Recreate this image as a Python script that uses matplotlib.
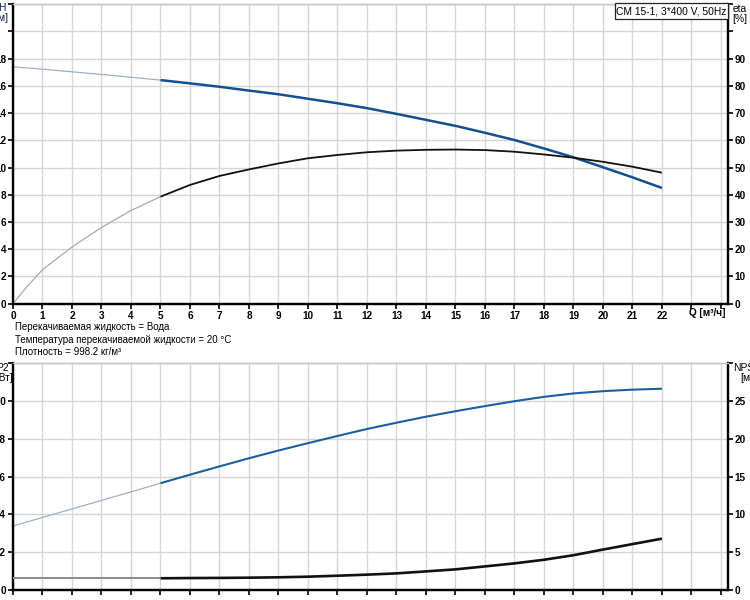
import matplotlib
matplotlib.use("Agg")
import matplotlib.pyplot as plt
from matplotlib.patches import Rectangle

plt.rcParams['font.family'] = ['Liberation Sans', 'DejaVu Sans']

# ---- data ----
Q = [0, 0.5, 1, 2, 3, 4, 5, 6, 7, 8, 9, 10, 11, 12, 13, 14, 15, 16, 17, 18, 19, 20, 21, 22]
H = [17.4, 17.31, 17.22, 17.03, 16.83, 16.63, 16.42, 16.18, 15.93, 15.65, 15.38, 15.05, 14.72,
     14.36, 13.94, 13.5, 13.06, 12.55, 12.02, 11.4, 10.75, 10.02, 9.28, 8.5]
ETA = [0, 6.6, 12.5, 20.8, 28.0, 34.2, 39.3, 43.6, 46.9, 49.3, 51.5, 53.4, 54.6, 55.6, 56.2,
       56.5, 56.6, 56.4, 55.8, 54.8, 53.6, 52.1, 50.3, 48.1]
P2 = [0.339, 0.361, 0.384, 0.429, 0.474, 0.519, 0.565, 0.61, 0.654, 0.697, 0.738, 0.777, 0.815,
      0.852, 0.885, 0.917, 0.946, 0.973, 0.999, 1.022, 1.04, 1.052, 1.06, 1.065]
NPSH = [1.55, 1.55, 1.55, 1.55, 1.55, 1.55, 1.55, 1.58, 1.6, 1.63, 1.68, 1.76, 1.89, 2.03, 2.2,
        2.46, 2.73, 3.12, 3.52, 4.0, 4.6, 5.35, 6.07, 6.79]
SPLIT = 6  # index where the solid (operating) part begins (Q = 5)

x_ticks = list(range(0, 25))
x_labels = [str(v) if v <= 22 else '' for v in x_ticks]
h_ticks = list(range(0, 24, 2))
h_labels = [str(v) if v <= 18 else '' for v in h_ticks]
eta_ticks = list(range(0, 120, 10))
eta_labels = [str(v) if v <= 90 else '' for v in eta_ticks]
p_ticks = [0, 0.2, 0.4, 0.6, 0.8, 1.0, 1.2]
p_labels = ['0', '0.2', '0.4', '0.6', '0.8', '1.0', '']
n_ticks = [0, 5, 10, 15, 20, 25, 30]
n_labels = ['0', '5', '10', '15', '20', '25', '']

title = 'CM 15-1, 3*400 V, 50Hz'
info = ['Перекачиваемая жидкость = Вода',
        'Температура перекачиваемой жидкости = 20 °C',
        'Плотность = 998.2 кг/м³']

W, Hpx = 750, 600
fig = plt.figure(figsize=(W / 100, Hpx / 100), dpi=100)
fig.patch.set_facecolor('white')

def fx(px):
    return px / W

def fy(py):
    return 1 - py / Hpx

GRID = '#d6d6d6'
TFS = 7.2
BLUE_D = '#164f8f'
BLUE_L = '#9ab0cc'
BLUE_P = '#1d5e9f'

def style(ax, axr, xmax, ylim, yticks, ylabels, rlim, rticks, rlabels, xlabels_on=True):
    ax.set_xlim(0, xmax)
    ax.set_ylim(*ylim)
    axr.set_ylim(*rlim)
    ax.set_xticks(x_ticks)
    ax.set_xticklabels(x_labels)
    ax.set_yticks(yticks)
    ax.set_yticklabels(ylabels)
    axr.set_yticks(rticks)
    axr.set_yticklabels(rlabels)
    ax.grid(True, color=GRID, lw=1.0)
    ax.set_axisbelow(True)
    for a in (ax, axr):
        a.tick_params(direction='out', length=3.5, width=1.2, labelsize=TFS, pad=1.5,
                      colors='black')
        for lbl in a.get_xticklabels() + a.get_yticklabels():
            lbl.set_fontweight('bold')
        a.spines['left'].set_linewidth(1.6)
        a.spines['right'].set_linewidth(1.6)
        a.spines['bottom'].set_linewidth(1.6)
        a.spines['top'].set_color('#c8c8c8')
        a.spines['top'].set_linewidth(1.0)
    if not xlabels_on:
        ax.tick_params(axis='x', labelbottom=False)

XMAX = 24.23

# ---- top axes: H and eta ----
ax1 = fig.add_axes([fx(13), fy(303.7), fx(727.7 - 13), (303.7 - 4.1) / Hpx])
ax1r = ax1.twinx()
style(ax1, ax1r, XMAX, (0, 22), h_ticks, h_labels, (0, 110), eta_ticks, eta_labels)

ax1.plot(Q[:SPLIT + 1], H[:SPLIT + 1], color=BLUE_L, lw=0.9, solid_capstyle='butt')
ax1.plot(Q[SPLIT:], H[SPLIT:], color=BLUE_D, lw=1.8, solid_capstyle='butt')
ax1r.plot(Q[:SPLIT + 1], ETA[:SPLIT + 1], color='#a8a8a8', lw=0.9, solid_capstyle='butt')
ax1r.plot(Q[SPLIT:], ETA[SPLIT:], color='#111111', lw=1.3, solid_capstyle='butt')

fig.text(fx(707), fy(313), 'Q [м³/ч]', fontsize=TFS, fontweight='bold', ha='center', va='center')
fig.text(fx(2), fy(13), 'H\n[м]', fontsize=7.4, ha='center', va='center', linespacing=1.1,
         color='#0a2050')
fig.text(fx(740), fy(14), 'eta\n[%]', fontsize=7.4, ha='center', va='center', linespacing=1.1)

# legend/title box
fig.patches.append(Rectangle((fx(614.5), fy(19)), fx(728 - 614.5), 16 / Hpx,
                             transform=fig.transFigure, facecolor='white',
                             edgecolor='#222222', lw=0.9, zorder=5))
fig.text(fx(671), fy(11), title, fontsize=7.4, ha='center', va='center', zorder=6)

# info text
for i, s in enumerate(info):
    fig.text(fx(15), fy(327 + 12.6 * i), s, fontsize=7.05, ha='left', va='center')

# ---- bottom axes: P2 and NPSH ----
ax2 = fig.add_axes([fx(13), fy(590), fx(727.7 - 13), (590 - 363.2) / Hpx])
ax2r = ax2.twinx()
style(ax2, ax2r, XMAX, (0, 1.2), p_ticks, p_labels, (0, 30), n_ticks, n_labels,
      xlabels_on=False)

ax2.plot(Q[:SPLIT + 1], P2[:SPLIT + 1], color=BLUE_L, lw=0.9, solid_capstyle='butt')
ax2.plot(Q[SPLIT:], P2[SPLIT:], color=BLUE_P, lw=1.5, solid_capstyle='butt')
ax2r.plot(Q[:SPLIT + 1], NPSH[:SPLIT + 1], color='#8c8c8c', lw=1.4, solid_capstyle='butt',
          zorder=3)
ax2r.plot(Q[SPLIT:], NPSH[SPLIT:], color='#111111', lw=1.9, solid_capstyle='butt')

fig.text(fx(2), fy(373), 'P2\n[кВт]', fontsize=7.4, ha='center', va='center', linespacing=1.1)
fig.text(fx(747), fy(373), 'NPSH\n[м]', fontsize=7.4, ha='center', va='center', linespacing=1.1)

fig.savefig('out.png', dpi=100, facecolor='white')
